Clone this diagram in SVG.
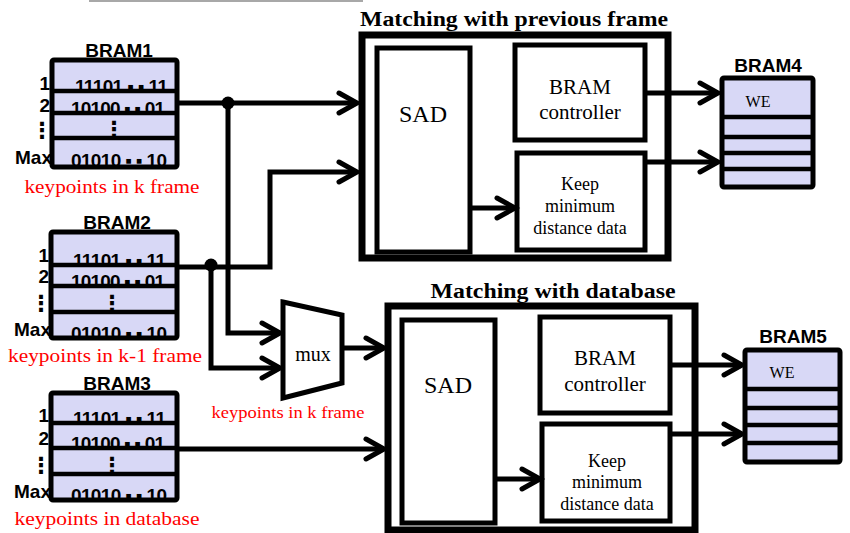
<svg xmlns="http://www.w3.org/2000/svg" width="850" height="533" viewBox="0 0 850 533">
<defs>
<style>
.bram{fill:#d8d8f6;stroke:#000;stroke-width:5;}
.sep{stroke:#000;stroke-width:4.5;}
.ttl{font-family:"Liberation Sans",Arial,sans-serif;font-weight:bold;font-size:19px;text-anchor:middle;}
.row{font-family:"Liberation Sans","DejaVu Sans",Arial,sans-serif;font-weight:bold;font-size:19px;}
.lbl{font-family:"Liberation Sans","DejaVu Sans",Arial,sans-serif;font-weight:bold;font-size:19px;text-anchor:end;}
.vd{font-family:"DejaVu Sans",sans-serif;font-weight:bold;font-size:22px;text-anchor:middle;}
.red{font-family:"Liberation Serif","Times New Roman","DejaVu Serif",serif;font-size:19px;fill:#ff0000;text-anchor:middle;}
.hdr{font-family:"Liberation Serif","Times New Roman","DejaVu Serif",serif;font-weight:bold;font-size:20px;text-anchor:middle;}
.outer{fill:#fff;stroke:#000;stroke-width:7;}
.inner{fill:#fff;stroke:#000;stroke-width:5;}
.big{font-family:"Liberation Serif","Times New Roman","DejaVu Serif",serif;font-size:24px;text-anchor:middle;}
.mid{font-family:"Liberation Serif","Times New Roman","DejaVu Serif",serif;font-size:21px;text-anchor:middle;}
.sm{font-family:"Liberation Serif","Times New Roman","DejaVu Serif",serif;font-size:18px;text-anchor:middle;}
.we{font-family:"Liberation Serif","Times New Roman","DejaVu Serif",serif;font-size:16px;text-anchor:middle;}
.wire{fill:none;stroke:#000;stroke-width:5;}
</style>
<marker id="arr" markerUnits="userSpaceOnUse" markerWidth="1" markerHeight="1" orient="auto" overflow="visible" refX="0" refY="0">
<path d="M-18,-10 L0,0 L-18,10" fill="none" stroke="#000" stroke-width="5" stroke-linecap="round"/>
</marker>
</defs>

<line x1="89" y1="1" x2="363" y2="1" stroke="#a8a8a8" stroke-width="2"/>

<g id="bram1">
<text class="ttl" x="119" y="57">BRAM1</text>
<rect class="bram" x="52" y="60" width="125" height="107" rx="2"/>
<text class="row" x="75" y="93" textLength="93">11101 ▪ ▪ 11</text>
<text class="row" x="71" y="115" textLength="94">10100 ▪ ▪ 01</text>
<text class="vd" x="114" y="137">⋮</text>
<text class="row" x="71" y="167" textLength="96">01010 ▪ ▪ 10</text>
<line class="sep" x1="52" y1="91" x2="177" y2="91"/>
<line class="sep" x1="52" y1="113" x2="177" y2="113"/>
<line class="sep" x1="52" y1="138" x2="177" y2="138"/>
<text class="lbl" x="50" y="90">1</text>
<text class="lbl" x="50" y="112">2</text>
<text class="vd" x="42" y="138">⋮</text>
<text class="lbl" x="52" y="164">Max</text>
<text class="red" x="112" y="193" textLength="175" lengthAdjust="spacingAndGlyphs">keypoints in k frame</text>
</g>

<g id="bram2">
<text class="ttl" x="117" y="229">BRAM2</text>
<rect class="bram" x="51" y="232" width="126" height="106" rx="2"/>
<text class="row" x="73" y="267" textLength="93">11101 ▪ ▪ 11</text>
<text class="row" x="71" y="288" textLength="94">10100 ▪ ▪ 01</text>
<text class="vd" x="112" y="311">⋮</text>
<text class="row" x="71" y="340" textLength="96">01010 ▪ ▪ 10</text>
<line class="sep" x1="51" y1="265" x2="177" y2="265"/>
<line class="sep" x1="51" y1="286" x2="177" y2="286"/>
<line class="sep" x1="51" y1="312" x2="177" y2="312"/>
<text class="lbl" x="49" y="262">1</text>
<text class="lbl" x="49" y="283">2</text>
<text class="vd" x="41" y="311">⋮</text>
<text class="lbl" x="51" y="336">Max</text>
<text class="red" x="105" y="362" textLength="194" lengthAdjust="spacingAndGlyphs">keypoints in k-1 frame</text>
</g>

<g id="bram3">
<text class="ttl" x="117" y="390">BRAM3</text>
<rect class="bram" x="51" y="393" width="126" height="107" rx="2"/>
<text class="row" x="73" y="425" textLength="93">11101 ▪ ▪ 11</text>
<text class="row" x="71" y="450" textLength="94">10100 ▪ ▪ 01</text>
<text class="vd" x="112" y="473">⋮</text>
<text class="row" x="71" y="502" textLength="96">01010 ▪ ▪ 10</text>
<line class="sep" x1="51" y1="423" x2="177" y2="423"/>
<line class="sep" x1="51" y1="448" x2="177" y2="448"/>
<line class="sep" x1="51" y1="474" x2="177" y2="474"/>
<text class="lbl" x="49" y="422">1</text>
<text class="lbl" x="49" y="445">2</text>
<text class="vd" x="41" y="473">⋮</text>
<text class="lbl" x="51" y="498">Max</text>
<text class="red" x="107" y="525" textLength="185" lengthAdjust="spacingAndGlyphs">keypoints in database</text>
</g>

<g id="match-prev">
<text class="hdr" x="514" y="26" textLength="308" lengthAdjust="spacingAndGlyphs">Matching with previous frame</text>
<rect class="outer" x="362" y="35" width="306" height="223"/>
<g id="sad1">
<rect class="inner" x="377" y="48" width="93" height="204"/>
<text class="big" x="423" y="122">SAD</text>
</g>
<g id="ctrl1">
<rect class="inner" x="515" y="45" width="130" height="95"/>
<text class="mid" x="580" y="94">BRAM</text>
<text class="mid" x="580" y="119">controller</text>
</g>
<g id="keep1">
<rect class="inner" x="517" y="153" width="128" height="97"/>
<text class="sm" x="580" y="190">Keep</text>
<text class="sm" x="580" y="212">minimum</text>
<text class="sm" x="580" y="234">distance data</text>
</g>
</g>

<g id="match-db">
<text class="hdr" x="553" y="298" textLength="245" lengthAdjust="spacingAndGlyphs">Matching with database</text>
<rect class="outer" x="388" y="306" width="307" height="224"/>
<g id="sad2">
<rect class="inner" x="402" y="320" width="93" height="203"/>
<text class="big" x="448" y="393">SAD</text>
</g>
<g id="ctrl2">
<rect class="inner" x="540" y="317" width="130" height="96"/>
<text class="mid" x="605" y="365">BRAM</text>
<text class="mid" x="605" y="391">controller</text>
</g>
<g id="keep2">
<rect class="inner" x="542" y="424" width="128" height="97"/>
<text class="sm" x="607" y="467">Keep</text>
<text class="sm" x="607" y="488">minimum</text>
<text class="sm" x="607" y="510">distance data</text>
</g>
</g>

<g id="mux">
<polygon points="283,302 342,315 342,383 283,398" fill="#fff" stroke="#000" stroke-width="5" stroke-linejoin="miter"/>
<text class="mid" x="313" y="361" style="font-size:20px">mux</text>
<text class="red" x="288" y="418" style="font-size:16.5px" textLength="153" lengthAdjust="spacingAndGlyphs">keypoints in k frame</text>
</g>

<g id="bram4">
<text class="ttl" x="768" y="72">BRAM4</text>
<rect class="bram" x="722" y="78" width="91" height="109" rx="2"/>
<line class="sep" x1="722" y1="117" x2="813" y2="117"/>
<line class="sep" x1="722" y1="137" x2="813" y2="137"/>
<line class="sep" x1="722" y1="153" x2="813" y2="153"/>
<line class="sep" x1="722" y1="169" x2="813" y2="169"/>
<text class="we" x="758" y="107">WE</text>
</g>

<g id="bram5">
<text class="ttl" x="793" y="343">BRAM5</text>
<rect class="bram" x="745" y="350" width="95" height="112" rx="2"/>
<line class="sep" x1="745" y1="389" x2="840" y2="389"/>
<line class="sep" x1="745" y1="408" x2="840" y2="408"/>
<line class="sep" x1="745" y1="425" x2="840" y2="425"/>
<line class="sep" x1="745" y1="443" x2="840" y2="443"/>
<text class="we" x="782" y="378">WE</text>
</g>

<g id="connectors">
<path class="wire" d="M177,103 H357" marker-end="url(#arr)"/>
<path class="wire" d="M177,267 H270 V172 H357" marker-end="url(#arr)"/>
<path class="wire" d="M228,103 V333 H280" marker-end="url(#arr)"/>
<path class="wire" d="M211,265 V368 H280" marker-end="url(#arr)"/>
<path class="wire" d="M342,348 H384" marker-end="url(#arr)"/>
<path class="wire" d="M177,449 H384" marker-end="url(#arr)"/>
<path class="wire" d="M470,208 H515" marker-end="url(#arr)"/>
<path class="wire" d="M495,479 H540" marker-end="url(#arr)"/>
<path class="wire" d="M645,93 H718" marker-end="url(#arr)"/>
<path class="wire" d="M645,162 H718" marker-end="url(#arr)"/>
<path class="wire" d="M670,365 H742" marker-end="url(#arr)"/>
<path class="wire" d="M670,434 H742" marker-end="url(#arr)"/>
<circle cx="228" cy="103" r="6.5"/>
<circle cx="211" cy="265" r="6.5"/>
</g>
</svg>
